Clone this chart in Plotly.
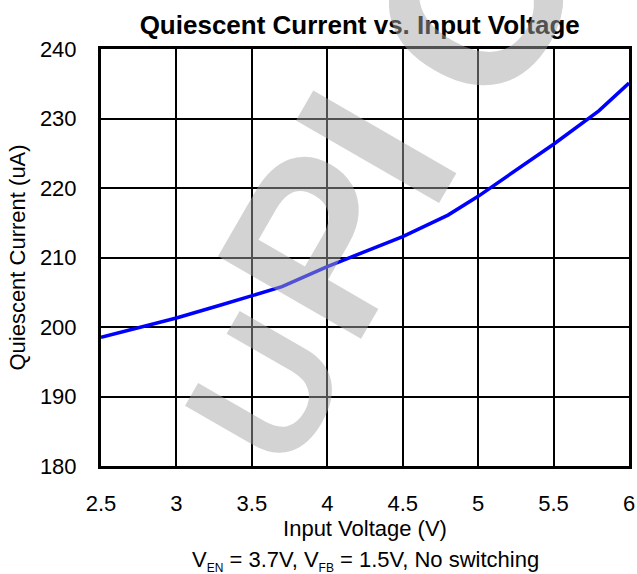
import plotly.graph_objects as go

# readings taken off the reference curve
vin = [2.5, 3.0, 3.3, 3.7, 4.0, 4.5, 4.8, 5.0, 5.5, 5.8, 6.0]
iq_ua = [198.5, 201.3, 203.2, 205.8, 208.7, 213.0, 216.1, 218.8, 226.3, 231.1, 235.1]

x_ticks = [2.5, 3, 3.5, 4, 4.5, 5, 5.5, 6]
y_ticks = [180, 190, 200, 210, 220, 230, 240]

# watermark letters: (letter, paper x, paper y, font size)
watermark = [
    ("U", 0.3125, 0.1823, 182),
    ("P", 0.4167, 0.5372, 240),
    ("I", 0.5208, 0.7674, 240),
    ("C", 0.706, 1.108, 240),
]

FONT = "Liberation Sans, Arial, sans-serif"

fig = go.Figure()
fig.add_trace(go.Scatter(
    x=vin, y=iq_ua, mode="lines",
    line=dict(color="#0000ff", width=3.5),
    showlegend=False,
))

axis_common = dict(
    showgrid=True, gridcolor="black", gridwidth=2,
    showline=True, linecolor="black", linewidth=3, mirror=True,
    zeroline=False, ticks="", automargin=False,
    tickfont=dict(family=FONT, size=22, color="black"),
)

fig.update_xaxes(
    range=[2.5, 6], tickvals=x_ticks,
    ticktext=[f"{v:g}" for v in x_ticks],
    ticklabelstandoff=16,
    title=dict(text="Input Voltage (V)", font=dict(family=FONT, size=22, color="black"),
               standoff=2),
    **axis_common,
)
fig.update_yaxes(
    range=[180, 240], tickvals=y_ticks,
    ticklabelstandoff=17,
    title=dict(text="Quiescent Current (uA)", font=dict(family=FONT, size=22, color="black"),
               standoff=9),
    **axis_common,
)

fig.add_annotation(
    text="V<sub><span style='font-size:12px'>EN</span></sub> = 3.7V, "
         "V<sub><span style='font-size:12px'>FB</span></sub> = 1.5V, No switching",
    xref="paper", yref="paper", x=0.5, y=-0.228, xanchor="center", yanchor="middle",
    showarrow=False, font=dict(family=FONT, size=22, color="black"),
)

for letter, wx, wy, size in watermark:
    fig.add_annotation(
        text=f"<b>{letter}</b>", textangle=-60,
        xref="paper", yref="paper", x=wx, y=wy, xanchor="center", yanchor="middle",
        showarrow=False, font=dict(family=FONT, size=size, color="rgba(165,165,165,0.49)"),
    )

fig.update_layout(
    width=637, height=574,
    margin=dict(l=101, r=8, t=49, b=108),
    paper_bgcolor="white", plot_bgcolor="white",
    title=dict(text="<b>Quiescent Current vs. Input Voltage</b>",
               font=dict(family=FONT, size=26, color="black"),
               x=0.49, xref="paper", xanchor="center", y=0.957, yanchor="middle",
               automargin=False),
)

fig.write_html("out.html", config={"displayModeBar": False},
               post_script="document.body.style.margin='0';")
